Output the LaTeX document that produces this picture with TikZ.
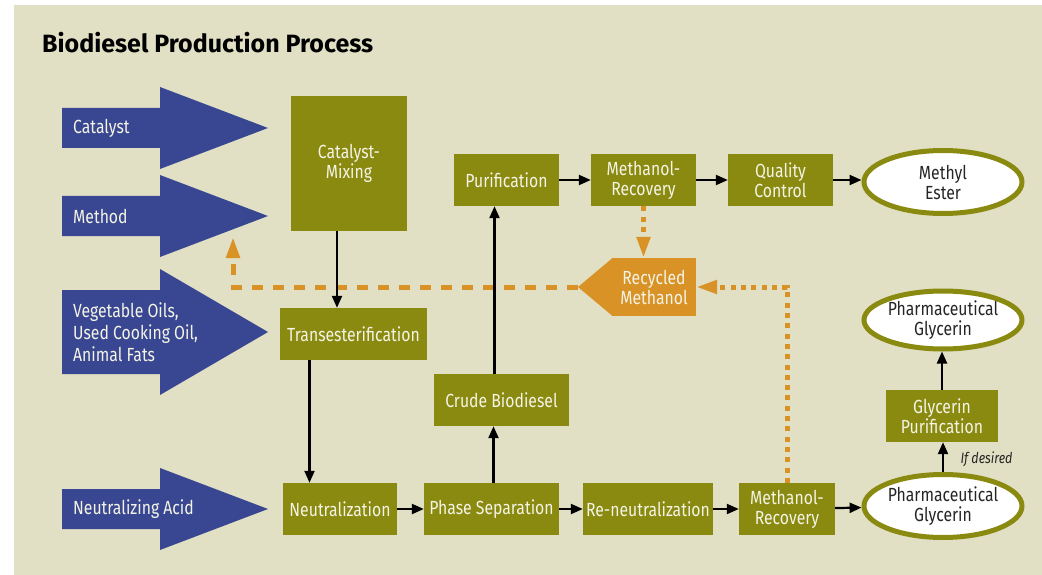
\documentclass[tikz,border=0pt]{standalone}
\usepackage{fontspec}
\setmainfont{Fira Sans}[FakeStretch=0.83]
\newfontfamily\titlefont{Fira Sans}
\usetikzlibrary{positioning,arrows.meta,shapes.geometric}
\definecolor{bg}{RGB}{225,224,196}
\definecolor{olive}{RGB}{138,138,16}
\definecolor{navy}{RGB}{57,71,146}
\definecolor{amber}{RGB}{217,146,38}
\definecolor{cream}{RGB}{244,244,230}

\begin{document}
\begin{tikzpicture}[x=1pt,y=-1pt,
  lbl/.style={font=\fontsize{19}{20}\selectfont},
  box/.style={lbl,fill=olive,text=cream,align=center,inner sep=0pt,minimum height=52pt},
  goal/.style={lbl,ellipse,draw=olive,line width=5pt,fill=white,text=black!85,align=center,inner sep=0pt,minimum width=158pt},
  feed/.style={lbl,text=cream,anchor=west,align=left,inner sep=0pt},
  arr/.style={line width=2.2pt,-{Triangle[length=12pt,width=10pt]}},
  back/.style={amber,line width=5pt,-{Triangle[length=21pt,width=13pt]}}]
  \useasboundingbox (0,0) rectangle (1042,575);
  \fill[bg] (14,5) rectangle (1042,575);
  \node[anchor=base west,inner sep=0pt,font=\titlefont\bfseries\fontsize{25}{28}\selectfont] (title) at (42,53) {Biodiesel Production Process};

  % inputs
  \foreach \y/\s/\h in {128/20/41, 216/20/41, 332/42/63, 509/20/41}
    \fill[navy] (62,\y-\s) -- (160,\y-\s) -- (160,\y-\h) -- (268,\y) -- (160,\y+\h) -- (160,\y+\s) -- (62,\y+\s) -- cycle;
  \node[feed] (catalyst) at (73,128) {Catalyst};
  \node[feed] (method) at (73,216) {Method};
  \node[feed,font=\fontsize{19}{22}\selectfont] (oils) at (73,332) {Vegetable Oils,\\Used Cooking Oil,\\Animal Fats};
  \node[feed] (acid) at (73,509) {Neutralizing Acid};

  % process steps
  \node[box,minimum width=116pt,minimum height=135pt] (mix) at (349,163.5) {Catalyst-\\Mixing};
  \node[box,minimum width=147pt] (trans) at (353.5,334) {Transesterification};
  \node[box,minimum width=114pt] (neut) at (340,509) {Neutralization};
  \node[box,minimum width=135pt] (phase) at (491.5,509) {Phase Separation};
  \node[box,minimum width=130pt] (reneut) at (648,509) {Re-neutralization};
  \node[box,minimum width=96pt] (mrbot) at (787,509) {Methanol-\\Recovery};
  \node[box,minimum width=135pt] (crude) at (501.5,400) {Crude Biodiesel};
  \node[box,minimum width=105pt] (purif) at (506.5,180) {Purification};
  \node[box,minimum width=105pt] (mrtop) at (643.5,180) {Methanol-\\Recovery};
  \node[box,minimum width=105pt] (qc) at (780.5,180) {Quality\\Control};
  \node[box,minimum width=112pt] (glypur) at (942,416) {Glycerin\\Purification};

  % products
  \node[goal,minimum height=63pt] (ester) at (943,182) {Methyl\\Ester};
  \node[goal,minimum height=58pt] (pharmtop) at (943,320) {Pharmaceutical\\Glycerin};
  \node[goal,minimum height=63pt] (pharmbot) at (943,506) {Pharmaceutical\\Glycerin};
  \node[anchor=west,font=\itshape\fontsize{15}{17}\selectfont,text=black!85] (ifdesired) at (957,459) {If desired};

  % recycled methanol
  \node[lbl,fill=amber,text=cream,align=center,inner sep=0pt,minimum width=84pt,minimum height=58pt] (rm) at (654,287) {Recycled\\Methanol};
  \coordinate (rmtip) at (578,287);
  \coordinate (feedtip) at (233,237);
  \fill[amber] ([xshift=1pt]rm.north west) -- (rmtip) -- ([xshift=1pt]rm.south west) -- cycle;
  \draw[back,dash pattern=on 5pt off 5.3pt] (mrtop.south) -- (mrtop.south |- rm.north);
  \draw[back,dash pattern=on 5pt off 5.3pt] (mrbot.north) |- (rm.east);
  \draw[back,dash pattern=on 11pt off 10pt] (rmtip) -| (feedtip);

  % flow
  \draw[arr] ([xshift=-12pt]mix.south) -- ([xshift=-12pt]mix.south |- trans.north);
  \draw[arr] ([xshift=-44pt]trans.south) -- ([xshift=-44pt]trans.south |- neut.north);
  \draw[arr] (neut) -- (phase);
  \draw[arr] (phase) -- (reneut);
  \draw[arr] (reneut) -- (mrbot);
  \draw[arr] (mrbot) -- (pharmbot);
  \draw[arr] ([xshift=2pt]phase.north) -- ([xshift=2pt]phase.north |- crude.south);
  \draw[arr] ([xshift=-7pt]crude.north) -- ([xshift=-7pt]crude.north |- purif.south);
  \draw[arr] (purif) -- (mrtop);
  \draw[arr] (mrtop) -- (qc);
  \draw[arr] (qc.east) -- (qc.east -| ester.west);
  \draw[arr] (pharmbot.north) -- (pharmbot.north |- glypur.south);
  \draw[arr] (glypur.north) -- (glypur.north |- pharmtop.south);
\end{tikzpicture}
\end{document}
